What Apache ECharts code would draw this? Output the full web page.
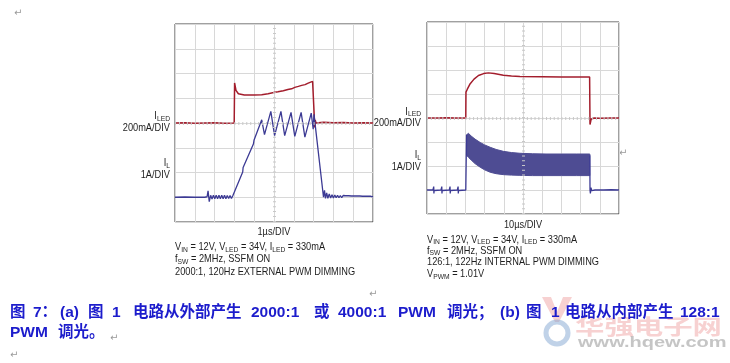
<!DOCTYPE html>
<html><head><meta charset="utf-8">
<script src="https://cdn.jsdelivr.net/npm/echarts@6/dist/echarts.min.js"></script>
<style>html,body{margin:0;padding:0;background:#fff}#c{width:730px;height:363px}</style>
</head><body><div id="c"></div>
<script>
// ---- data (x in divisions 0..10, y in divisions 0..8) ----
const xDivs = [0, 10];
const yDivs = [0, 8];

// (a) 1us/DIV
const iledA = [[0,4.0],[0.5,4.01],[1,3.99],[1.5,4.0],[2,4.01],[2.5,3.99],[2.99,4.0],[3.01,5.62],[3.08,5.32],[3.2,5.18],[3.5,5.13],[4.0,5.13],[4.38,5.14],[4.7,5.18],[5.05,5.24],[5.2,5.26],[5.47,5.3],[5.7,5.35],[5.89,5.38],[6.05,5.44],[6.23,5.48],[6.4,5.52],[6.57,5.55],[6.7,5.6],[6.82,5.64],[6.95,5.68],[7.03,5.72],[7.05,5.74],[7.06,3.82],[7.08,4.12],[7.12,4.0],[7.5,4.03],[8,4.01],[8.5,4.02],[9,4.0],[9.5,4.01],[10,4.0]];
const ilA = [[0,1.0],[0.5,1.01],[1.0,1.0],[1.5,1.0],[1.62,1.02],[1.67,1.26],[1.73,0.82],[1.8,1.08],[1.87,0.93],[1.94,1.08],[2.01,0.94],[2.08,1.08],[2.15,0.94],[2.22,1.08],[2.29,0.94],[2.36,1.08],[2.43,0.94],[2.5,1.08],[2.57,0.94],[2.64,1.07],[2.71,0.95],[2.78,1.07],[2.85,0.95],[2.92,1.06],[3.0,1.0],[3.42,2.02],[3.44,2.2],[3.47,2.12],[3.96,3.15],[3.99,3.3],[4.02,3.25],[4.38,4.13],[4.52,3.53],[4.84,4.47],[5.03,3.49],[5.35,4.47],[5.54,3.49],[5.86,4.43],[6.05,3.46],[6.37,4.43],[6.56,3.43],[6.88,4.4],[6.98,3.75],[7.02,4.35],[7.5,1.0],[7.55,1.28],[7.6,0.95],[7.66,1.18],[7.72,0.96],[7.79,1.13],[7.86,0.97],[7.93,1.1],[8.0,0.97],[8.07,1.09],[8.14,0.98],[8.21,1.08],[8.28,0.98],[8.35,1.07],[8.42,0.98],[8.49,1.07],[8.56,0.99],[8.63,1.06],[8.7,0.99],[8.77,1.06],[8.84,0.99],[8.91,1.05],[8.98,0.99],[9.05,1.05],[9.12,0.99],[9.19,1.05],[9.26,0.99],[9.33,1.05],[9.4,0.99],[9.47,1.04],[9.54,0.99],[9.61,1.04],[9.68,0.99],[9.75,1.04],[9.82,1.0],[9.89,1.04],[9.96,1.0],[10,1.02]];

// (b) 10us/DIV
const iledB = [[0,4.0],[0.5,4.0],[1,4.01],[1.5,4.0],[2.02,4.0],[2.03,5.08],[2.1,5.2],[2.25,5.43],[2.45,5.62],[2.68,5.77],[2.95,5.85],[3.2,5.88],[3.5,5.85],[3.98,5.78],[4.4,5.75],[4.84,5.73],[6,5.72],[7,5.71],[8.47,5.71],[8.49,3.73],[8.55,3.95],[8.7,4.0],[9,3.99],[9.5,4.0],[10,4.0]];
const ilBpre = [[0,1.0],[0.31,1.0],[0.35,1.06],[0.35,1.14],[0.36,0.86],[0.37,0.98],[0.42,1.0],[0.73,1.0],[0.77,1.06],[0.77,1.14],[0.78,0.86],[0.79,0.98],[0.84,1.0],[1.16,1.0],[1.2,1.06],[1.2,1.14],[1.21,0.86],[1.22,0.98],[1.27,1.0],[1.58,1.0],[1.62,1.06],[1.62,1.14],[1.63,0.86],[1.64,0.98],[1.69,1.0],[2.02,1.0],[2.06,3.3]];
const ilBpost = [[8.48,2.45],[8.49,1.0],[8.51,0.86],[8.54,1.1],[8.58,0.97],[8.65,1.02],[8.75,1.0],[9.2,1.0],[9.6,1.01],[10,1.0]];
const bandX   = [2.06,2.16,2.3,2.5,2.77,3.0,3.29,3.6,3.98,4.4,4.84,5.5,6.2,7.0,7.8,8.48];
const bandTop = [3.3,3.36,3.25,3.12,2.98,2.88,2.78,2.69,2.61,2.56,2.53,2.51,2.5,2.5,2.5,2.5];
const bandLow = [2.45,2.36,2.25,2.1,1.95,1.84,1.74,1.68,1.64,1.62,1.61,1.6,1.6,1.6,1.6,1.6];

// caption segments
const capLine1 = ['图','7：','(a)','图','1','电路从外部产生','2000:1','或','4000:1','PWM','调光；','(b)','图','1','电路从内部产生','128:1'];
const capLine2 = ['PWM','调光。'];

// ---- chart ----
const RED = '#a31d2c', BLUE = '#3c3a94', BAND = '#4e4c93';
const FONT = "'Liberation Sans',Arial,sans-serif";
const TXT = '#1e1e1e';
const SX = 0.84;
const rich = {
  n: {fontSize: 11, fontFamily: FONT, fill: TXT, lineHeight: 13},
  s: {fontSize: 8, fontFamily: FONT, fill: TXT, lineHeight: 8, verticalAlign: 'bottom'}
};
function xa(g){return {gridIndex:g,type:'value',min:xDivs[0],max:xDivs[1],interval:1,axisLine:{show:false},axisTick:{show:false},axisLabel:{show:false},splitLine:{show:true,lineStyle:{color:'#d8d8d8',width:1}}};}
function ya(g){return {gridIndex:g,type:'value',min:yDivs[0],max:yDivs[1],interval:1,axisLine:{show:false},axisTick:{show:false},axisLabel:{show:false},splitLine:{show:true,lineStyle:{color:'#d8d8d8',width:1}}};}
function centerMarks(tx, ty){
  return {symbol:'none',silent:true,label:{show:false},animation:false,
    data:[{xAxis:5,lineStyle:{color:'#c8c8c8',width:3,type:[1,ty-1]}},{yAxis:4,lineStyle:{color:'#c8c8c8',width:3,type:[1,tx-1]}}]};
}
function line(g, data, color, w, extra){
  return Object.assign({type:'line',xAxisIndex:g,yAxisIndex:g,data:data,showSymbol:false,symbol:'none',animation:false,silent:true,
    lineStyle:{color:color,width:w},itemStyle:{color:color}}, extra||{});
}
function T(text, x, y, align){
  return {type:'text',x:x,y:y,scaleX:SX,silent:true,style:{text:text,rich:rich,align:align||'left',verticalAlign:'middle',fontSize:11,fontFamily:FONT,fill:TXT}};
}
const CAP = "bold 15.5px 'Liberation Sans','Noto Sans CJK SC',sans-serif";
const capX1 = [10,33,60,88,112,133,251,314,338,398,447,500,526,551,565,680];
const capX2 = [10,58];
function capSeg(text, x, y){return {type:'text',silent:true,x:x,y:y,style:{text:text,font:CAP,fill:'#1c1ccc',verticalAlign:'middle'}};}
function ret(x,y){return {type:'text',x:x,y:y,silent:true,style:{text:'\u21B5',fontSize:10,fontFamily:'DejaVu Sans',fill:'#9a9a9a',verticalAlign:'middle'}};}

const bandData = bandX.map((x,i)=>[x,bandLow[i],bandTop[i]]);

const chart = echarts.init(document.getElementById('c'), null, {renderer:'canvas'});
chart.setOption({
  backgroundColor:'#fff',
  animation:false,
  grid:[
    {left:175,top:24,width:198,height:198,show:true,borderColor:'#404040',borderWidth:1,backgroundColor:'#fff'},
    {left:427,top:22,width:192,height:192,show:true,borderColor:'#404040',borderWidth:1,backgroundColor:'#fff'}
  ],
  xAxis:[xa(0),xa(1)],
  yAxis:[ya(0),ya(1)],
  series:[
    line(0, iledA, RED, 1.5, {markLine:centerMarks(198/50, 198/40)}),
    line(0, ilA, BLUE, 1.3),
    line(1, iledB, RED, 1.5, {markLine:centerMarks(192/50, 192/40)}),
    line(1, ilBpre, BLUE, 1.3),
    line(1, ilBpost, BLUE, 1.3),
    {type:'custom',xAxisIndex:1,yAxisIndex:1,silent:true,animation:false,data:bandData,
      encode:{x:0,y:[1,2]},
      renderItem:function(params, api){
        if (params.dataIndex !== 0) return null;
        const pts = [];
        for (let i=0;i<bandData.length;i++) pts.push(api.coord([bandData[i][0], bandData[i][2]]));
        for (let i=bandData.length-1;i>=0;i--) pts.push(api.coord([bandData[i][0], bandData[i][1]]));
        return {type:'polygon',shape:{points:pts},style:{fill:BAND,stroke:BAND,lineWidth:1}};
      }}
  ],
  graphic:[
    // left panel labels
    T('{n|I}{s|LED}', 170, 116, 'right'),
    T('{n|200mA/DIV}', 170, 128, 'right'),
    T('{n|I}{s|L}', 170, 163, 'right'),
    T('{n|1A/DIV}', 170, 174.5, 'right'),
    T('{n|1\u00B5s/DIV}', 274, 232, 'center'),
    T('{n|V}{s|IN}{n| = 12V, V}{s|LED}{n| = 34V, I}{s|LED}{n| = 330mA}', 175, 247, 'left'),
    T('{n|f}{s|SW}{n| = 2MHz, SSFM ON}', 175, 259, 'left'),
    T('{n|2000:1, 120Hz EXTERNAL PWM DIMMING}', 175, 271.5, 'left'),
    // right panel labels
    T('{n|I}{s|LED}', 421, 111.5, 'right'),
    T('{n|200mA/DIV}', 421, 123, 'right'),
    T('{n|I}{s|L}', 421, 155, 'right'),
    T('{n|1A/DIV}', 421, 166.5, 'right'),
    T('{n|10\u00B5s/DIV}', 523, 225, 'center'),
    T('{n|V}{s|IN}{n| = 12V, V}{s|LED}{n| = 34V, I}{s|LED}{n| = 330mA}', 427, 239.5, 'left'),
    T('{n|f}{s|SW}{n| = 2MHz, SSFM ON}', 427, 250.5, 'left'),
    T('{n|126:1, 122Hz INTERNAL PWM DIMMING}', 427, 262, 'left'),
    T('{n|V}{s|PWM}{n| = 1.01V}', 427, 274, 'left'),
    // watermark
    {type:'polygon',silent:true,shape:{points:[[542,297],[551,297],[557,312],[563,297],[572,297],[559,322],[555,322]]},style:{fill:'rgba(236,140,140,0.4)'}},
    {type:'circle',silent:true,shape:{cx:557,cy:333,r:11},style:{fill:'none',stroke:'rgba(130,165,210,0.5)',lineWidth:5}},
    {type:'text',silent:true,x:575,y:326,scaleX:1.4,style:{text:'华强电子网',font:"bold 21px 'Noto Sans CJK SC',sans-serif",fill:'rgba(236,140,140,0.4)',verticalAlign:'middle'}},
    {type:'text',silent:true,x:578,y:343,scaleX:1.38,style:{text:'www.hqew.com',font:"bold 14.5px 'Liberation Sans',sans-serif",fill:'rgba(150,150,150,0.55)',verticalAlign:'middle'}}
  ].concat(capLine1.map((t,i)=>capSeg(t, capX1[i], 313)))
   .concat(capLine2.map((t,i)=>capSeg(t, capX2[i], 333)))
   .concat([ret(14,13), ret(369,294), ret(619,153), ret(110,338), ret(10,355)])
});
</script></body></html>
